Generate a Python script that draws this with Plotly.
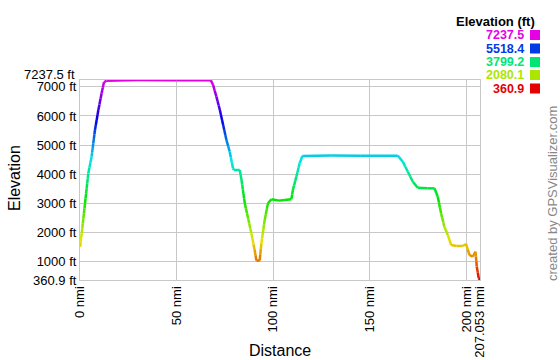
import colorsys
import plotly.graph_objects as go

# ---- data ----
dist_nmi = [0, 0.9, 2.6, 4.3, 6.0, 7.75, 9.5, 11.2, 12.4, 13.8, 30, 50, 67.7, 68.9, 70.6,
            72.4, 74.1, 75.8, 77.5, 79.2, 79.6, 82.7, 83.6, 85.3, 87.0, 88.7, 90.4, 91.3,
            93.0, 93.9, 95.6, 97.3, 99.1, 103, 106, 109.4, 110.2, 112.0, 113.7, 115.1, 130,
            145, 164.5, 167.1, 169.7, 172.3, 174.8, 180, 183.5, 185.2, 186.9, 188.6, 190.4,
            192.1, 195, 198.1, 199.8, 201.6, 203.3, 204.7, 205.4, 206.4, 207.053]
elev_ft = [1500, 1966, 2998, 4030, 4600, 5519, 6207, 6781, 7160, 7215, 7237, 7230, 7230,
           7066, 6664, 6207, 5691, 5175, 4773, 4202, 4143, 4143, 3800, 2998, 2483, 1966,
           1392, 1030, 1030, 1623, 2424, 2998, 3136, 3090, 3110, 3136, 3456, 3913, 4372,
           4625, 4640, 4630, 4636, 4429, 4085, 3741, 3535, 3513, 3513, 3225, 2654, 2194,
           1908, 1564, 1530, 1530, 1599, 1220, 1162, 1334, 818, 419, 360.9]

elev_min = 360.9
elev_max = 7237.5
dist_max = 207.053

y_ticks = [360.9, 1000, 2000, 3000, 4000, 5000, 6000, 7000]
y_tick_text = ["360.9 ft", "1000 ft", "2000 ft", "3000 ft", "4000 ft", "5000 ft", "6000 ft", "7000 ft"]
x_ticks = [0, 50, 100, 150, 200, 207.053]
x_tick_text = ["0 nmi", "50 nmi", "100 nmi", "150 nmi", "200 nmi", "207.053 nmi"]

legend_values = [7237.5, 5518.4, 3799.2, 2080.1, 360.9]

FONT = "Liberation Sans, Arial, sans-serif"


def elev_color(e):
    f = (e - elev_min) / (elev_max - elev_min)
    f = min(max(f, 0), 1)
    r, g, b = colorsys.hsv_to_rgb(300 * f / 360.0, 1.0, 0.9)
    return "rgb(%d,%d,%d)" % (round(r * 255), round(g * 255), round(b * 255))


fig = go.Figure()
for i in range(len(dist_nmi) - 1):
    x0, x1 = dist_nmi[i], dist_nmi[i + 1]
    e0, e1 = elev_ft[i], elev_ft[i + 1]
    n = max(1, int(abs(e1 - e0) / 150))
    for k in range(n):
        a, b = k / n, (k + 1) / n
        xa, xb = x0 + (x1 - x0) * a, x0 + (x1 - x0) * b
        ya, yb = e0 + (e1 - e0) * a, e0 + (e1 - e0) * b
        fig.add_trace(go.Scatter(
            x=[xa, xb], y=[ya, yb], mode="lines",
            line=dict(color=elev_color((ya + yb) / 2), width=2.5),
            hoverinfo="skip", showlegend=False))

L, R, T, B = 80, 80, 80, 80
W, H = 560, 360
pw, ph = W - L - R, H - T - B


def px_x(px):
    return (px - L) / pw


def px_y(py):
    return (H - B - py) / ph


annotations = [
    dict(text="7237.5 ft", xref="paper", yref="paper", x=0, y=1, xanchor="right",
         yanchor="middle", xshift=-3, yshift=6, showarrow=False,
         font=dict(family=FONT, size=13, color="#000")),
    dict(text="<b>Elevation (ft)</b>", xref="paper", yref="paper", x=px_x(537), y=px_y(21),
         xanchor="right", yanchor="middle", showarrow=False,
         font=dict(family=FONT, size=13, color="#000")),
    dict(text="created by GPSVisualizer.com", xref="paper", yref="paper", x=px_x(552),
         y=px_y(194), textangle=-90, xanchor="center", yanchor="middle", showarrow=False,
         font=dict(family=FONT, size=13, color="#888")),
    dict(text="Distance", xref="paper", yref="paper", x=px_x(280), y=px_y(350),
         xanchor="center", yanchor="middle", showarrow=False,
         font=dict(family=FONT, size=16, color="#000")),
    dict(text="Elevation", xref="paper", yref="paper", x=px_x(14), y=px_y(178),
         textangle=-90, xanchor="center", yanchor="middle", showarrow=False,
         font=dict(family=FONT, size=16, color="#000")),
]
shapes = []
legend_y = [35, 48.5, 62, 75, 88.5]
for v, yy in zip(legend_values, legend_y):
    c = elev_color(v)
    annotations.append(dict(text="<b>%s</b>" % v, xref="paper", yref="paper", x=px_x(526),
                            y=px_y(yy), xanchor="right", yanchor="middle", showarrow=False,
                            font=dict(family=FONT, size=12.5, color=c)))
    shapes.append(dict(type="rect", xref="paper", yref="paper", x0=px_x(530), x1=px_x(540),
                       y0=px_y(yy + 5), y1=px_y(yy - 5), fillcolor=c, line=dict(width=0)))

fig.update_layout(
    width=W, height=H, margin=dict(l=L, r=R, t=T, b=B, autoexpand=False),
    paper_bgcolor="white", plot_bgcolor="white",
    font=dict(family=FONT, size=13, color="#000"),
    annotations=annotations, shapes=shapes,
    xaxis=dict(range=[0, dist_max], tickmode="array", tickvals=x_ticks, ticktext=x_tick_text,
               tickangle=-90, showgrid=True, gridcolor="#c8c8c8", gridwidth=1,
               showline=True, linecolor="#c8c8c8", mirror=True, zeroline=False, ticks="",
               automargin=False, tickfont=dict(size=13)),
    yaxis=dict(range=[elev_min, elev_max], tickmode="array", tickvals=y_ticks,
               ticktext=y_tick_text, showgrid=True, gridcolor="#c8c8c8", gridwidth=1,
               showline=True, linecolor="#c8c8c8", mirror=True, zeroline=False, ticks="",
               automargin=False, tickfont=dict(size=13)),
)

fig.write_html("out.html")
